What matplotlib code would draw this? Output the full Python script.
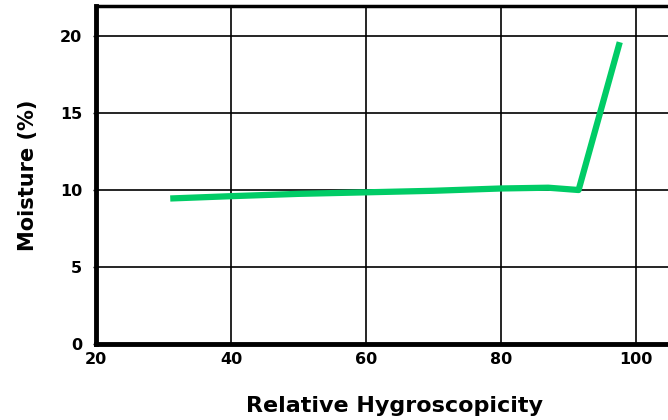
import matplotlib.pyplot as plt

# values
hygroscopicity = [31, 40, 50, 60, 70, 80, 87, 91.5, 97.6]
moisture = [9.45, 9.6, 9.75, 9.85, 9.95, 10.1, 10.15, 10.0, 19.6]
x_ticks = [20, 40, 60, 80, 100]
y_ticks = [0, 5, 10, 15, 20]

fig = plt.figure(figsize=(6.68, 4.2), dpi=100)
ax = fig.add_axes([96/668, 1 - 344/420, (694 - 96)/668, 338/420])

ax.plot(hygroscopicity, moisture, color='#00cc66', linewidth=4.5,
        solid_capstyle='butt', zorder=3)

ax.set_xlim(20, 108.6)
ax.set_ylim(0, 21.95)
ax.set_xticks(x_ticks)
ax.set_yticks(y_ticks)
ax.grid(True, color='black', linewidth=1.2)
ax.set_axisbelow(True)

ax.tick_params(axis='x', length=0, labelsize=11.5, pad=6)
ax.tick_params(axis='y', length=2, width=1, labelsize=11.5, pad=8)
for lab in ax.get_xticklabels() + ax.get_yticklabels():
    lab.set_fontweight('bold')

for side in ['left', 'bottom']:
    ax.spines[side].set_linewidth(3.5)
ax.spines['top'].set_linewidth(2.5)
ax.spines['right'].set_visible(False)

ax.set_xlabel('Relative Hygroscopicity', fontsize=16, fontweight='bold', labelpad=21)
ax.set_ylabel('Moisture (%)', fontsize=15, fontweight='bold', labelpad=16)

fig.savefig('out.png', dpi=100)
